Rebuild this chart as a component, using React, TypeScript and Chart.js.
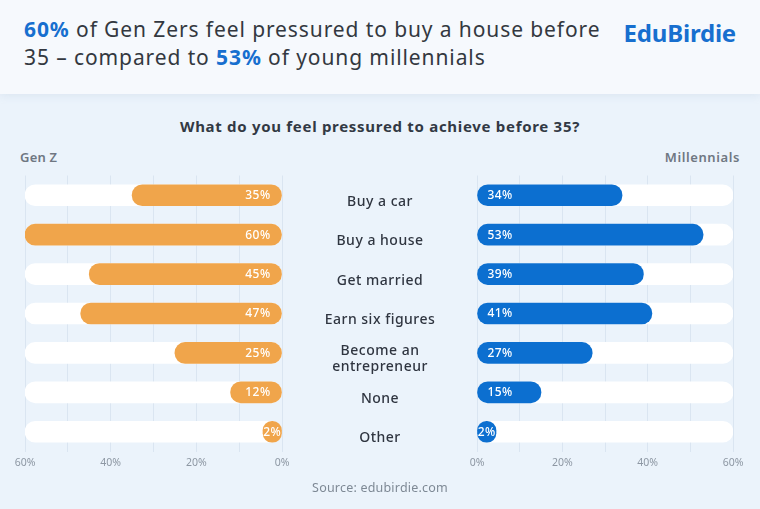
import { useEffect, useRef } from "react";
import { Chart, registerables } from "chart.js";

Chart.register(...registerables);

const categories: (string | string[])[] = [
  "Buy a car",
  "Buy a house",
  "Get married",
  "Earn six figures",
  ["Become an", "entrepreneur"],
  "None",
  "Other",
];
const genZ = [35, 60, 45, 47, 25, 12, 2];
const millennials = [34, 53, 39, 41, 27, 15, 2];
const fullTrack = [60, 60, 60, 60, 60, 60, 60];
const tickValues = [0, 20, 40, 60];

const ORANGE = "#f0a54b";
const BLUE = "#0c6fd0";
const FONT = "'Noto Sans', sans-serif";

// writes the % value inside each coloured bar
const valueLabels = {
  id: "valueLabels",
  afterDatasetsDraw(chart: Chart) {
    const { ctx } = chart;
    const meta = chart.getDatasetMeta(0);
    const values = chart.data.datasets[0].data as number[];
    const reversed = !!(chart.options.scales as any).x.reverse;
    ctx.save();
    ctx.fillStyle = "#ffffff";
    ctx.font = `500 12px ${FONT}`;
    (ctx as any).letterSpacing = "0.4px";
    ctx.textBaseline = "middle";
    meta.data.forEach((bar: any, i) => {
      const len = Math.abs(bar.x - bar.base);
      const text = `${values[i]}%`;
      if (len < 30) {
        ctx.textAlign = "center";
        ctx.fillText(text, (bar.x + bar.base) / 2, bar.y + 0.5);
      } else if (reversed) {
        ctx.textAlign = "right";
        ctx.fillText(text, bar.base - 11, bar.y + 0.5);
      } else {
        ctx.textAlign = "left";
        ctx.fillText(text, bar.base + 10, bar.y + 0.5);
      }
    });
    ctx.restore();
  },
};

// category names in the middle column, placed from the y scale
const middleLabels = {
  id: "middleLabels",
  afterDraw(chart: Chart) {
    const { ctx } = chart;
    const y = chart.scales.y;
    ctx.save();
    ctx.fillStyle = "#2f3540";
    ctx.font = `500 14px ${FONT}`;
    (ctx as any).letterSpacing = "0.5px";
    ctx.textAlign = "center";
    ctx.textBaseline = "middle";
    (chart.data.labels as (string | string[])[]).forEach((lab, i) => {
      const lines = Array.isArray(lab) ? lab : [lab];
      const cy = y.getPixelForTick(i) + 6.5;
      const lh = 16;
      lines.forEach((l, j) => {
        ctx.fillText(l, 380, cy + (j - (lines.length - 1) / 2) * lh);
      });
    });
    ctx.restore();
  },
};

function SideChart({ values, color, side }: { values: number[]; color: string; side: "left" | "right" }) {
  const canvasRef = useRef<HTMLCanvasElement>(null);
  const chartRef = useRef<Chart | null>(null);

  useEffect(() => {
    if (!canvasRef.current) return;
    if (chartRef.current) chartRef.current.destroy();
    const isLeft = side === "left";

    chartRef.current = new Chart(canvasRef.current, {
      type: "bar",
      data: {
        labels: categories as any,
        datasets: [
          {
            data: values,
            backgroundColor: color,
            borderRadius: 11,
            borderSkipped: false,
            barThickness: 21,
            minBarLength: 19,
            grouped: false,
          } as any,
          {
            data: fullTrack,
            backgroundColor: "#ffffff",
            borderRadius: 11,
            borderSkipped: false,
            barThickness: 21,
            grouped: false,
          } as any,
        ],
      },
      options: {
        indexAxis: "y",
        animation: false,
        responsive: false,
        events: [],
        layout: {
          padding: isLeft
            ? { left: 25, right: 478, top: 15.5, bottom: 8.5 }
            : { left: 477, right: 27, top: 15.5, bottom: 8.5 },
        },
        plugins: { legend: { display: false }, tooltip: { enabled: false } },
        scales: {
          x: {
            min: 0,
            max: 60,
            reverse: isLeft,
            afterFit: (s: any) => {
              s.paddingLeft = 0;
              s.paddingRight = 0;
              s.height = 20;
            },
            afterBuildTicks: (s: any) => {
              s.ticks = [0, 10, 20, 30, 40, 50, 60].map((v) => ({ value: v }));
            },
            grid: { color: "#dae5f1", lineWidth: 1, drawTicks: false },
            border: { display: false },
            ticks: {
              padding: 5,
              color: "#8d97a3",
              font: { size: 10.5, family: FONT },
              callback: (v: any) => (tickValues.includes(Number(v)) ? `${v}%` : ""),
            },
          },
          y: { display: false },
        },
      },
      plugins: isLeft ? [valueLabels, middleLabels] : [valueLabels],
    });

    return () => {
      if (chartRef.current) {
        chartRef.current.destroy();
        chartRef.current = null;
      }
    };
  }, [values, color, side]);

  return (
    <canvas
      ref={canvasRef}
      width={760}
      height={320}
      style={{ position: "absolute", left: 0, top: 160, width: 760, height: 320 }}
    />
  );
}

export default function App() {
  const blue = { color: "#176fcf", fontWeight: 700 };
  return (
    <div
      style={{
        position: "absolute",
        left: 0,
        top: 0,
        width: 760,
        height: 509,
        overflow: "hidden",
        background: "#ebf3fb",
        fontFamily: FONT,
      }}
    >
      <div
        style={{
          position: "absolute",
          left: 0,
          top: 0,
          width: 760,
          height: 94,
          background: "#f6f9fd",
          boxShadow: "0 2px 8px rgba(150,170,200,0.18)",
        }}
      >
        <div
          style={{
            position: "absolute",
            left: 24,
            top: 15,
            fontSize: 21,
            lineHeight: "28px",
            letterSpacing: 0.9,
            color: "#333840",
            whiteSpace: "nowrap",
          }}
        >
          <span style={blue}>60%</span> of Gen Zers feel pressured to buy a house before
          <br />
          35 – compared to <span style={blue}>53%</span> of young millennials
        </div>
        <div
          style={{
            position: "absolute",
            right: 24,
            top: 16,
            fontSize: 24,
            fontWeight: 700,
            color: "#176fcf",
            letterSpacing: -0.2,
          }}
        >
          EduBirdie
        </div>
      </div>
      <div
        style={{
          position: "absolute",
          left: 0,
          width: 760,
          top: 116,
          textAlign: "center",
          fontSize: 15,
          fontWeight: 700,
          letterSpacing: 0.7,
          color: "#323944",
        }}
      >
        What do you feel pressured to achieve before 35?
      </div>
      <div
        style={{ position: "absolute", left: 20, top: 148, fontSize: 13, fontWeight: 600, letterSpacing: 0.2, color: "#6f7782" }}
      >
        Gen Z
      </div>
      <div
        style={{ position: "absolute", right: 20, top: 148, fontSize: 13, fontWeight: 600, letterSpacing: 0.6, color: "#6f7782" }}
      >
        Millennials
      </div>
      <SideChart values={genZ} color={ORANGE} side="left" />
      <SideChart values={millennials} color={BLUE} side="right" />
      <div
        style={{
          position: "absolute",
          left: 0,
          width: 760,
          top: 479,
          textAlign: "center",
          fontSize: 12.5,
          letterSpacing: 0.2,
          color: "#7e8995",
        }}
      >
        Source: edubirdie.com
      </div>
    </div>
  );
}
